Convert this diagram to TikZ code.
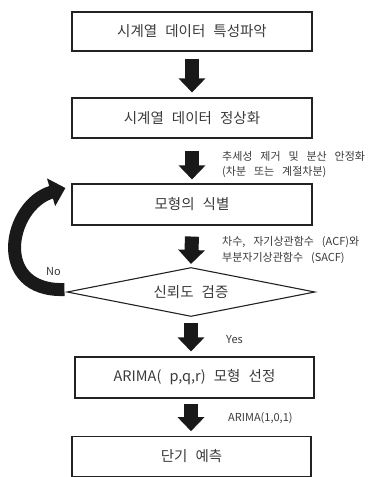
\documentclass[tikz,border=0pt]{standalone}
\usepackage{fontspec}
\setmainfont{Noto Sans CJK KR}[WordSpace=2.5]
\newfontfamily\notefont{Noto Sans CJK KR}[WordSpace=3.2]
\usetikzlibrary{arrows.meta,shapes.geometric}
\definecolor{txt}{HTML}{3A3A3A}
\definecolor{ln}{HTML}{222222}
\begin{document}
\begin{tikzpicture}[x=1pt,y=-1pt,
  box/.style={draw=ln, line width=1.1pt, minimum width=240pt, minimum height=40pt, inner sep=0pt, text=txt, font=\fontsize{14.5}{17}\selectfont},
  decision/.style={diamond, draw=ln, line width=1.1pt, aspect=5, minimum width=248pt, minimum height=49pt, inner sep=0pt, text=txt, font=\fontsize{14.5}{17}\selectfont},
  blockarrow/.style={draw=black!90, line width=14pt, -{Triangle[length=14pt,width=26pt]}},
  curvearrow/.style={draw=black!90, line width=13pt, -{Triangle[length=15pt,width=28pt]}},
  note/.style={anchor=west, text=txt, font=\notefont\fontsize{11}{13}\selectfont, inner sep=0pt}]
\useasboundingbox (0,0) rectangle (371,477);
\node[box, minimum height=39pt] (b1) at (192,31.5) {시계열 데이터 특성파악};
\node[box] (b2) at (192,118) {시계열 데이터 정상화};
\node[box, minimum height=41pt] (b3) at (192,204.5) {모형의 식별};
\node[decision] (d) at (191,292) {신뢰도 검증};
\node[box, minimum width=239pt, minimum height=41pt] (b4) at (194.5,377.5) {ARIMA( p,q,r) 모형 선정};
\node[box, minimum width=239pt, minimum height=39.5pt] (b5) at (191.5,456.5) {단기 예측};

\draw[blockarrow] ([yshift=-7pt]b1.south) -- ([yshift=5pt]b2.north);
\draw[blockarrow] ([yshift=-12pt]b2.south) -- ([yshift=4pt]b3.north);
\draw[blockarrow] ([yshift=-11pt]b3.south) -- ([yshift=3pt]d.north);
\draw[blockarrow] ([yshift=-6pt]d.south) -- ([yshift=5pt]d.south |- b4.north);
\draw[blockarrow] ([yshift=-5pt]d.south |- b4.south) -- ([yshift=5pt]d.south |- b5.north);

\draw[curvearrow] ([xshift=-2pt,yshift=2.5pt]d.west) .. controls (-8,292) and (8,205) .. ([xshift=-6pt,yshift=16.5pt]b3.west);

\node[note] (n1) at (222,156) {추세성 제거 및 분산 안정화};
\node[note] (n2) at (222,172) {(차분 또는 계절차분)};
\node[note] (n3) at (222,242) {차수, 자기상관함수 (ACF)와};
\node[note] (n4) at (222,258) {부분자기상관함수 (SACF)};
\node[note] (yes) at (226,340) {Yes};
\node[note] (arima) at (228,418) {ARIMA(1,0,1)};
\node[note] (no) at (46,272) {No};
\end{tikzpicture}
\end{document}
